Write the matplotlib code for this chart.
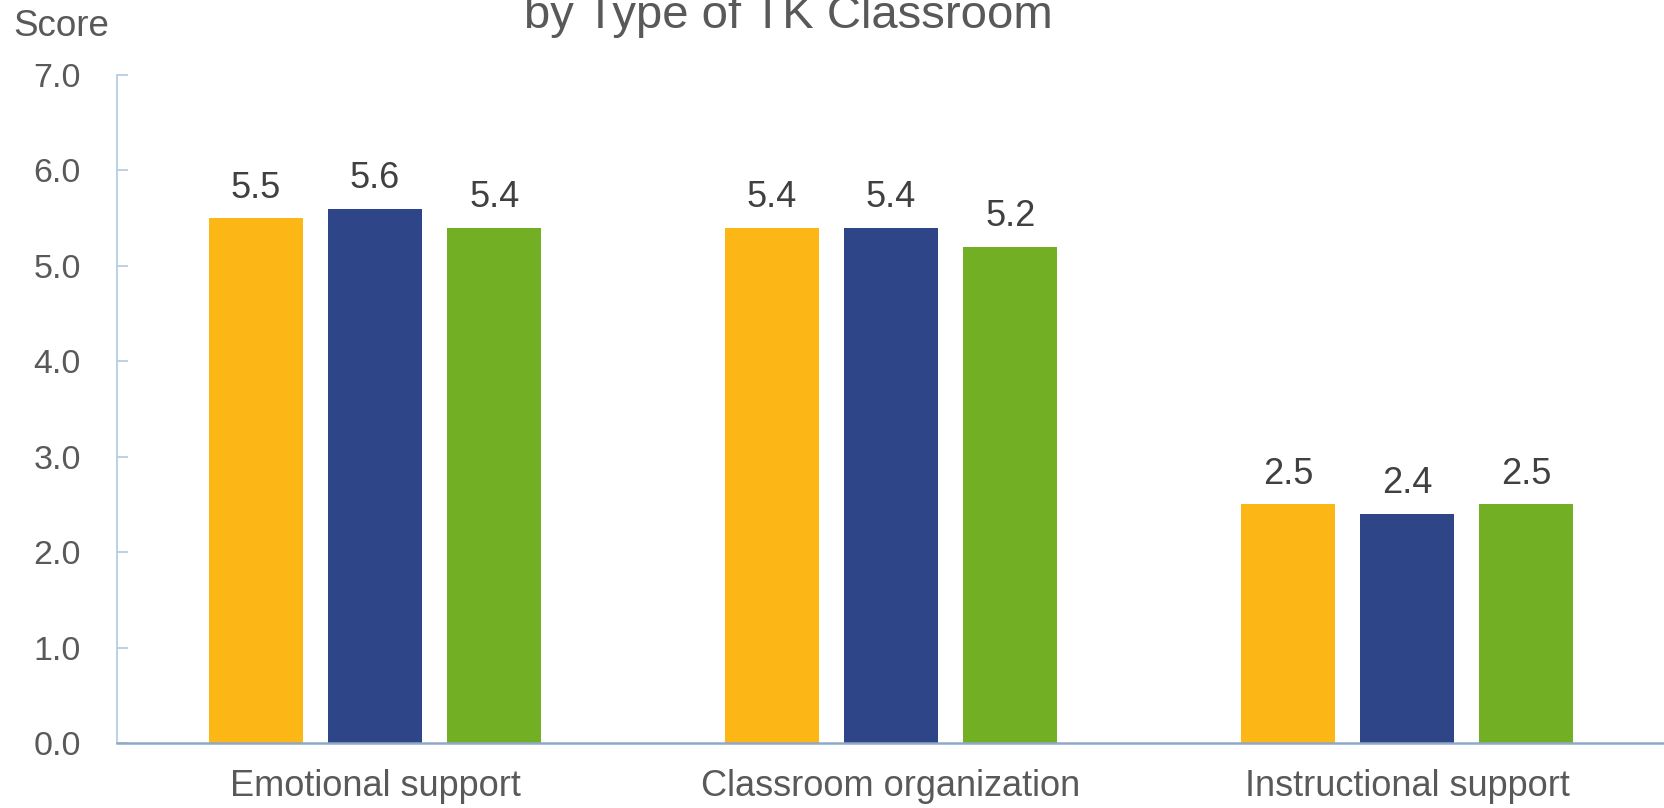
import matplotlib
matplotlib.use("Agg")
import matplotlib.pyplot as plt
import numpy as np

plt.rcParams['font.family'] = ['Liberation Sans', 'DejaVu Sans']

# data
categories = ["Emotional support", "Classroom organization", "Instructional support"]
series_a = [5.5, 5.4, 2.5]
series_b = [5.6, 5.4, 2.4]
series_c = [5.4, 5.2, 2.5]
yticks = [0.0, 1.0, 2.0, 3.0, 4.0, 5.0, 6.0, 7.0]

colors = ["#FCB716", "#2E4588", "#72AF24"]

fig = plt.figure(figsize=(16.65, 8.08), dpi=100)
ax = fig.add_axes([0.0703, 0.0804, 0.9297, 0.8268])

x = np.arange(len(categories))
width = 0.183
step = 0.231
for i, (vals, c) in enumerate(zip([series_a, series_b, series_c], colors)):
    pos = x + (i - 1) * step
    ax.bar(pos, vals, width=width, color=c)
    for xb, v in zip(pos, vals):
        ax.annotate(f"{v:.1f}", (xb, v), xytext=(0, 9), textcoords="offset points",
                    ha="center", va="bottom", fontsize=26, color="#404040")

ax.set_xlim(-0.5, 2.5)
ax.set_ylim(0, 7)
ax.set_yticks(yticks)
ax.set_yticklabels([f"{t:.1f}" for t in yticks])
ax.set_xticks(x)
ax.set_xticklabels(categories)

ax.spines['top'].set_visible(False)
ax.spines['right'].set_visible(False)
ax.spines['left'].set_color("#B9CDE5")
ax.spines['left'].set_linewidth(1.3)
ax.spines['bottom'].set_color("#8EA9C8")
ax.spines['bottom'].set_linewidth(1.8)

ax.tick_params(axis='y', direction='in', length=8, width=1.3, color="#B9CDE5",
               labelsize=24.5, labelcolor="#595959", pad=26)
ax.tick_params(axis='x', length=0, labelsize=26, labelcolor="#595959", pad=19)

fig.text(13 / 1665, 1 - 9 / 808, "Score", ha="left", va="top", fontsize=26.5, color="#595959")
fig.text(788 / 1665, 1 - 28 / 808, "by Type of TK Classroom",
         ha="center", va="baseline", fontsize=34, color="#595959")

fig.savefig("out.png", dpi=100)
